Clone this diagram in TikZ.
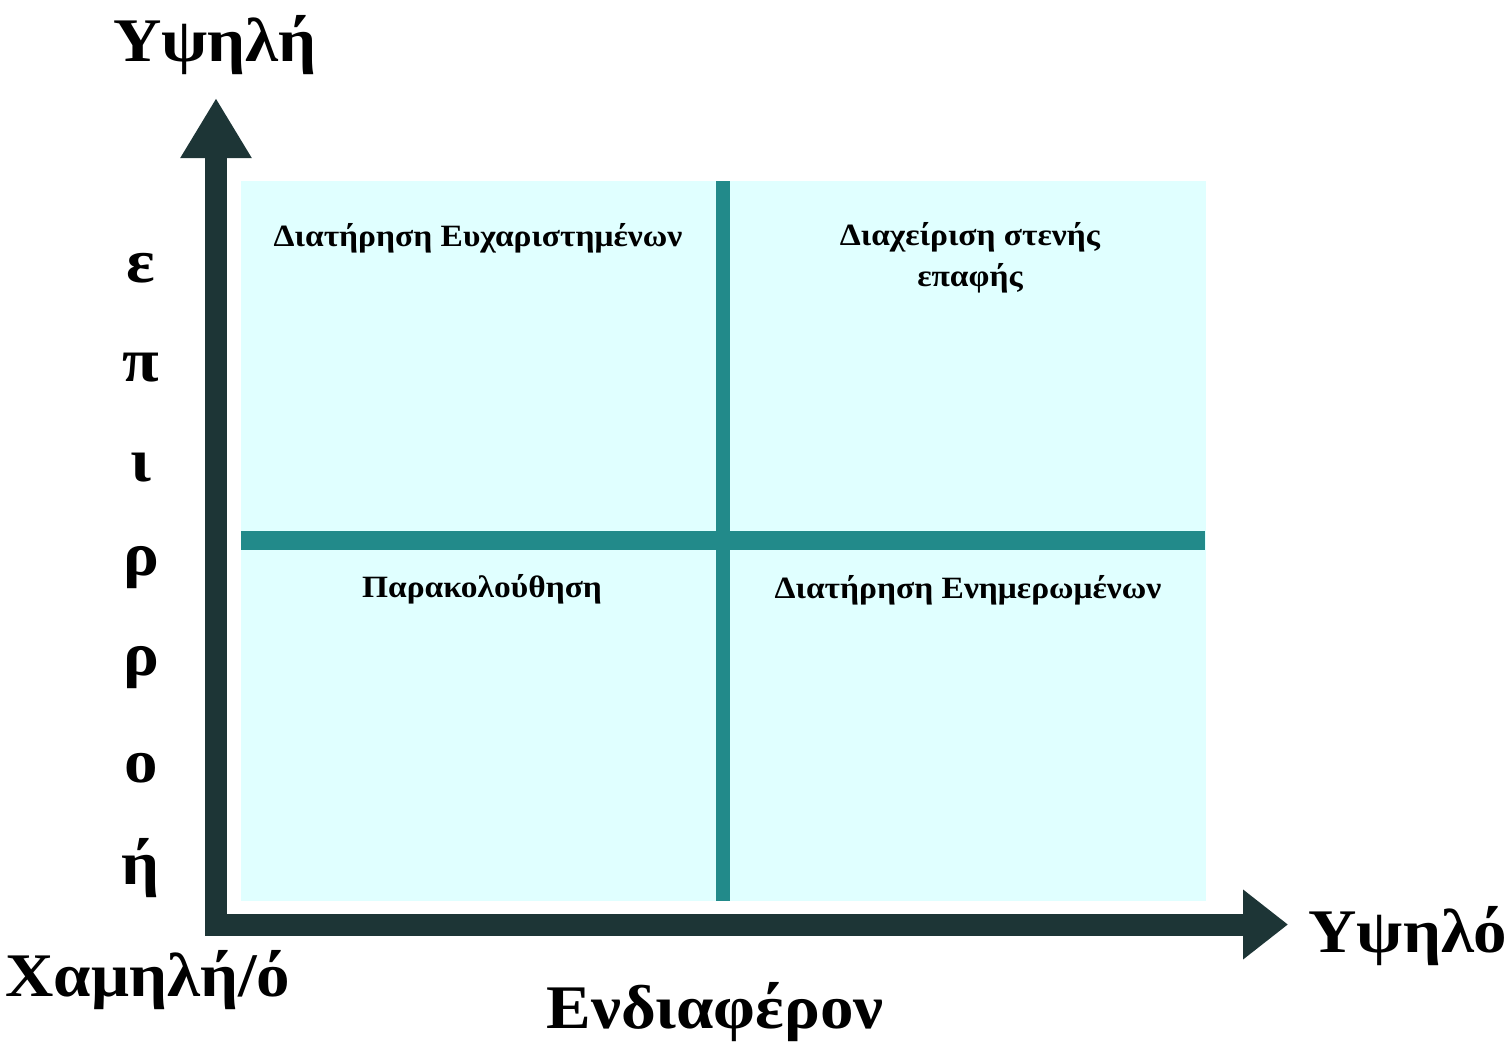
\documentclass[tikz,border=0pt]{standalone}
\usepackage{fontspec}
\setmainfont{Liberation Serif}
\newfontfamily\wideserif[FakeStretch=1.08]{Liberation Serif}
\usetikzlibrary{arrows.meta}
\definecolor{axisdark}{RGB}{29,53,54}
\definecolor{crossteal}{RGB}{34,138,138}
\definecolor{cellcyan}{RGB}{224,255,255}
\tikzset{
    axis/.style={line width=22pt,draw=axisdark,line cap=butt,
        {Triangle[length=60pt,width=67pt]}-{Triangle[length=45pt,width=67pt]}},
    biglabel/.style={font=\wideserif\fontsize{62}{62}\selectfont\bfseries},
    cell/.style={font=\wideserif\fontsize{31}{41}\selectfont\bfseries,align=center},
}
\begin{document}
\begin{tikzpicture}[x=1pt,y=-1pt]
        \useasboundingbox (0,0) rectangle (1507,1044);
        \fill[cellcyan] (241,181) rectangle (1206,901);
        \draw[crossteal,line width=14pt] (723,181) -- (723,901);
        \draw[crossteal,line width=19pt] (241,540.5) -- (1205,540.5);
        \coordinate (ytop) at (216,98);
        \coordinate (origin) at (216,924.5);
        \coordinate (xend) at (1288,924.5);
        \draw[axis] (ytop) -- (origin) -- (xend);
        \node[biglabel] (yhigh) at (215,45) {Υψηλή};
        \node[biglabel] (xhigh) at (1408,936) {Υψηλό};
        \node[biglabel] (low) at (148,980) {Χαμηλή/ό};
        \node[biglabel] (xname) at (715,1012) {Ενδιαφέρον};
        \foreach \ch [count=\i] in {ε,π,ι,ρ,ρ,ο,ή}
            \node[biglabel] (v\i) at (141,168+100*\i) {\ch};
        \node[cell] (q1) at (478,238) {Διατήρηση Ευχαριστημένων};
        \node[cell] (q2) at (970,258) {Διαχείριση στενής\\επαφής};
        \node[cell] (q3) at (482,589) {Παρακολούθηση};
        \node[cell] (q4) at (968,590) {Διατήρηση Ενημερωμένων};
    \end{tikzpicture}
\end{document}
